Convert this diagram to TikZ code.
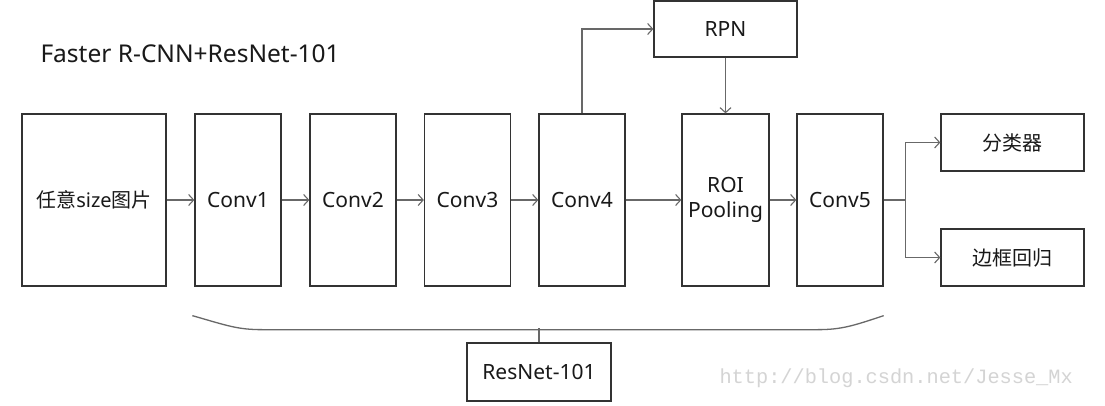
\documentclass[tikz,border=0pt]{standalone}
\usepackage{fontspec}
\setmainfont{Noto Sans}
\newfontfamily\cjk{Noto Sans CJK SC}
\newfontfamily\wmfont{Liberation Mono}
\usetikzlibrary{arrows.meta}
\definecolor{boxline}{HTML}{333333}
\definecolor{arrline}{HTML}{686868}
\definecolor{wm}{HTML}{D4D4D4}
\tikzset{
  box/.style={draw=boxline, line width=1.3pt, inner sep=0pt, align=center, font=\fontsize{21}{22}\selectfont, text=black!90},
  cjkbox/.style={box, font=\cjk\fontsize{20}{22}\selectfont},
  arr/.style={draw=arrline, line width=1.3pt, -{Straight Barb[length=5pt,width=11pt,line width=1.1pt]}},
  ln/.style={draw=arrline, line width=1.3pt},
}
\begin{document}
\begin{tikzpicture}[x=1pt,y=-1pt]
\useasboundingbox[fill=white] (0,0) rectangle (1105,406);
\node[anchor=west, font=\fontsize{24.5}{26}\selectfont, text=black!90] (title) at (37,54) {Faster R-CNN+ResNet-101};
\node[box, minimum width=144pt, minimum height=172pt, font=\fontsize{20}{22}\selectfont] (in) at (94,200) {{\cjk 任意}size{\cjk 图片}};
\node[box, minimum width=86pt, minimum height=172pt] (c1) at (238,200) {Conv1};
\node[box, minimum width=86pt, minimum height=172pt] (c2) at (353,200) {Conv2};
\node[box, minimum width=86pt, minimum height=172pt] (c3) at (467.5,200) {Conv3};
\node[box, minimum width=86pt, minimum height=172pt] (c4) at (582,200) {Conv4};
\node[box, minimum width=87pt, minimum height=172pt, font=\fontsize{21}{25}\selectfont] (roi) at (725.5,200) {ROI\\Pooling};
\node[box, minimum width=86pt, minimum height=172pt] (c5) at (840,200) {Conv5};
\node[box, minimum width=143pt, minimum height=56pt] (rpn) at (725.5,29) {RPN};
\node[cjkbox, minimum width=143pt, minimum height=57pt] (cls) at (1012.5,142.5) {分类器};
\node[cjkbox, minimum width=143pt, minimum height=57pt] (reg) at (1012.5,257.5) {边框回归};
\node[box, minimum width=144pt, minimum height=58pt] (res) at (539,372) {ResNet-101};
\node[anchor=west, font=\wmfont\fontsize{20.3}{22}\selectfont, text=wm] (wmk) at (716,378) {http://blog.csdn.net/Jesse\_Mx};
\draw[arr] (in.east) -- (c1.west);
\draw[arr] (c1.east) -- (c2.west);
\draw[arr] (c2.east) -- (c3.west);
\draw[arr] (c3.east) -- (c4.west);
\draw[arr] (c4.east) -- (roi.west);
\draw[arr] (roi.east) -- (c5.west);
\draw[arr] (c4.north) |- (rpn.west);
\draw[arr] (rpn.south) -- (roi.north);
\draw[ln] (c5.east) -- ++(22,0) coordinate (br);
\draw[arr] (br) |- (cls.west);
\draw[arr] (br) |- (reg.west);
% brace
\coordinate (bl) at ([xshift=-2pt,yshift=-29pt]c1.south west);
\coordinate (brr) at ([yshift=-29pt]c5.south east);
\draw[ln] (bl) .. controls ([xshift=35pt,yshift=-10pt]bl) and ([xshift=45pt,yshift=-14pt]bl) .. ([xshift=70pt,yshift=-14pt]bl)
  -- ([xshift=-66pt,yshift=-14pt]brr) .. controls ([xshift=-42pt,yshift=-14pt]brr) and ([xshift=-30pt,yshift=-10pt]brr) .. (brr);
\draw[ln] (res.north) -- ++(0,-14);
\end{tikzpicture}
\end{document}
